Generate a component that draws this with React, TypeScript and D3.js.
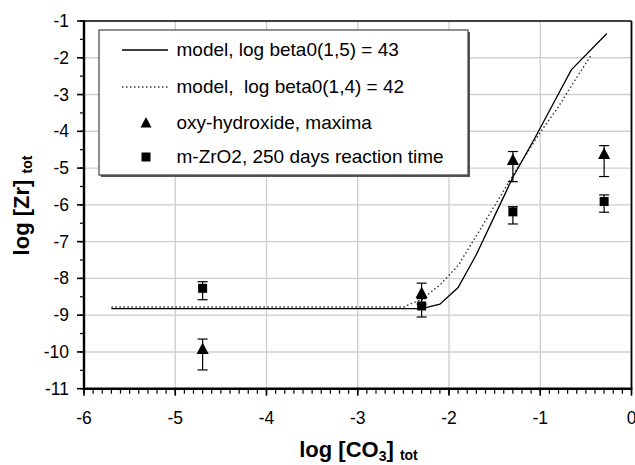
import React from "react";
import * as d3 from "d3";

const xTicks = [-6, -5, -4, -3, -2, -1, 0];
const yTicks = [-1, -2, -3, -4, -5, -6, -7, -8, -9, -10, -11];

const modelSolidX = [-5.7, -2.3, -2.1, -1.9, -1.7, -1.5, -1.3, -1.06, -0.66, -0.27];
const modelSolidY = [-8.82, -8.82, -8.7, -8.25, -7.35, -6.3, -5.25, -4.19, -2.33, -1.34];

const modelDotX = [-5.7, -2.5, -2.3, -2.1, -1.9, -1.73, -1.44, -1.33, -1.02, -0.8, -0.64, -0.44];
const modelDotY = [-8.78, -8.78, -8.57, -8.18, -7.65, -6.96, -5.78, -5.32, -4.1, -3.33, -2.69, -1.92];

const oxyX = [-4.7, -2.3, -1.3, -0.3];
const oxyY = [-9.92, -8.4, -4.78, -4.62];
const oxyHi = [-9.65, -8.13, -4.55, -4.39];
const oxyLo = [-10.49, -8.7, -5.37, -5.23];

const zrX = [-4.7, -2.3, -1.3, -0.3];
const zrY = [-8.27, -8.75, -6.19, -5.91];
const zrHi = [-8.09, -8.55, -6.05, -5.73];
const zrLo = [-8.58, -9.05, -6.52, -6.2];

const legendLabels = [
  "model, log beta0(1,5) = 43",
  "model,  log beta0(1,4) = 42",
  "oxy-hydroxide, maxima",
  "m-ZrO2, 250 days reaction time",
];

const W = 635;
const H = 465;
const M = { left: 84, right: 631.5, top: 21, bottom: 388.7 };
const FONT = "'Liberation Sans', Arial, sans-serif";

export default function App() {
  const x = d3.scaleLinear().domain([-6, 0]).range([M.left, M.right]);
  const y = d3.scaleLinear().domain([-11, -1]).range([M.bottom, M.top]);

  const line = d3
    .line<[number, number]>()
    .x((d) => x(d[0]))
    .y((d) => y(d[1]));

  const solidPts = modelSolidX.map((v, i) => [v, modelSolidY[i]] as [number, number]);
  const dotPts = modelDotX.map((v, i) => [v, modelDotY[i]] as [number, number]);

  const xMinor = d3.range(-6, 0.0001, 0.1).map((v) => Math.round(v * 10) / 10);
  const yMinor = d3.range(-11, -0.999, 0.5);

  const tri = (cx: number, cy: number, s: number) =>
    `M${cx},${cy - s * 0.6} L${cx + s * 0.55},${cy + s * 0.45} L${cx - s * 0.55},${cy + s * 0.45} Z`;

  const errBar = (cx: number, hi: number, lo: number, key: string) => (
    <g key={key} stroke="#000" strokeWidth={1.2}>
      <line x1={cx} x2={cx} y1={y(hi)} y2={y(lo)} />
      <line x1={cx - 5} x2={cx + 5} y1={y(hi)} y2={y(hi)} />
      <line x1={cx - 5} x2={cx + 5} y1={y(lo)} y2={y(lo)} />
    </g>
  );

  const legX = 99;
  const legY = 30;
  const legW = 369;
  const legH = 145;
  const rowY = [50, 87, 123, 157];

  return (
    <svg width={W} height={H} style={{ position: "absolute", left: 0, top: 0, background: "#fff" }}>
      <rect x={0} y={0} width={W} height={H} fill="#fff" />
      {/* grid */}
      <g stroke="#d0d0d0" strokeWidth={1.4}>
        {xTicks.slice(1, -1).map((t) => (
          <line key={"gx" + t} x1={x(t)} x2={x(t)} y1={M.top} y2={M.bottom} />
        ))}
        {yTicks.slice(1, -1).map((t) => (
          <line key={"gy" + t} x1={M.left} x2={M.right} y1={y(t)} y2={y(t)} />
        ))}
      </g>
      {/* model lines */}
      <path d={line(dotPts) || ""} fill="none" stroke="#333" strokeWidth={1.4} strokeDasharray="1.5,2.5" />
      <path d={line(solidPts) || ""} fill="none" stroke="#000" strokeWidth={1.3} />
      {/* error bars and markers */}
      {oxyX.map((v, i) => errBar(x(v), oxyHi[i], oxyLo[i], "eo" + i))}
      {zrX.map((v, i) => errBar(x(v), zrHi[i], zrLo[i], "ez" + i))}
      {zrX.map((v, i) => (
        <rect key={"sq" + i} x={x(v) - 4.5} y={y(zrY[i]) - 4.5} width={9} height={9} fill="#000" />
      ))}
      {oxyX.map((v, i) => (
        <path key={"tr" + i} d={tri(x(v), y(oxyY[i]), 11)} fill="#000" />
      ))}
      {/* frame */}
      <line x1={M.left} x2={M.right} y1={M.top} y2={M.top} stroke="#000" strokeWidth={1.5} />
      <line x1={M.right} x2={M.right} y1={M.top} y2={M.bottom} stroke="#000" strokeWidth={1.8} />
      <line x1={M.left} x2={M.left} y1={M.top - 0.75} y2={M.bottom + 1} stroke="#000" strokeWidth={2.4} />
      <line x1={M.left - 1} x2={M.right + 0.9} y1={M.bottom} y2={M.bottom} stroke="#000" strokeWidth={2.4} />
      {/* ticks */}
      <g stroke="#000" strokeWidth={1.2}>
        {xMinor.map((t, i) => (
          <line key={"xm" + i} x1={x(t)} x2={x(t)} y1={M.bottom} y2={M.bottom + 5} />
        ))}
        {xTicks.map((t) => (
          <line key={"xt" + t} x1={x(t)} x2={x(t)} y1={M.bottom} y2={M.bottom + 7} strokeWidth={1.6} />
        ))}
        {yMinor.map((t, i) => (
          <line key={"ym" + i} x1={M.left - 4} x2={M.left} y1={y(t)} y2={y(t)} />
        ))}
        {yTicks.map((t) => (
          <line key={"yt" + t} x1={M.left - 7} x2={M.left} y1={y(t)} y2={y(t)} strokeWidth={1.6} />
        ))}
      </g>
      {/* tick labels */}
      <g fontFamily={FONT} fontSize={17.5} fill="#000">
        {xTicks.map((t) => (
          <text key={"xl" + t} x={x(t)} y={423.5} textAnchor="middle">
            {t}
          </text>
        ))}
        {yTicks.map((t) => (
          <text key={"yl" + t} x={69} y={y(t) + 6} textAnchor="end">
            {t}
          </text>
        ))}
      </g>
      {/* axis titles */}
      <text x={358.5} y={457} textAnchor="middle" fontFamily={FONT} fontSize={22} fontWeight="bold">
        log [CO
        <tspan fontSize={14} dy={4}>3</tspan>
        <tspan dy={-4}>] </tspan>
        <tspan fontSize={14} dy={3}>tot</tspan>
      </text>
      <text
        transform={`translate(28.5, ${205.5}) rotate(-90)`}
        textAnchor="middle"
        fontFamily={FONT}
        fontSize={22}
        fontWeight="bold"
      >
        log [Zr]{" "}
        <tspan fontSize={14} dy={3}>tot</tspan>
      </text>
      {/* legend */}
      <rect x={legX + 2} y={legY + 2} width={legW} height={legH} fill="#555" />
      <rect x={legX} y={legY} width={legW} height={legH} fill="#fff" stroke="#444" strokeWidth={1.2} />
      <line x1={122} x2={168} y1={rowY[0]} y2={rowY[0]} stroke="#000" strokeWidth={1.3} />
      <line x1={122} x2={168} y1={rowY[1]} y2={rowY[1]} stroke="#333" strokeWidth={1.3} strokeDasharray="1.5,2.5" />
      <path d={tri(146, rowY[2], 10)} fill="#000" />
      <rect x={141.5} y={rowY[3] - 4.5} width={9} height={9} fill="#000" />
      <g fontFamily={FONT} fontSize={19} fill="#000">
        {legendLabels.map((l, i) => (
          <text key={"lg" + i} x={176.5} y={rowY[i] + 6} style={{ whiteSpace: "pre" }}>
            {l}
          </text>
        ))}
      </g>
    </svg>
  );
}
